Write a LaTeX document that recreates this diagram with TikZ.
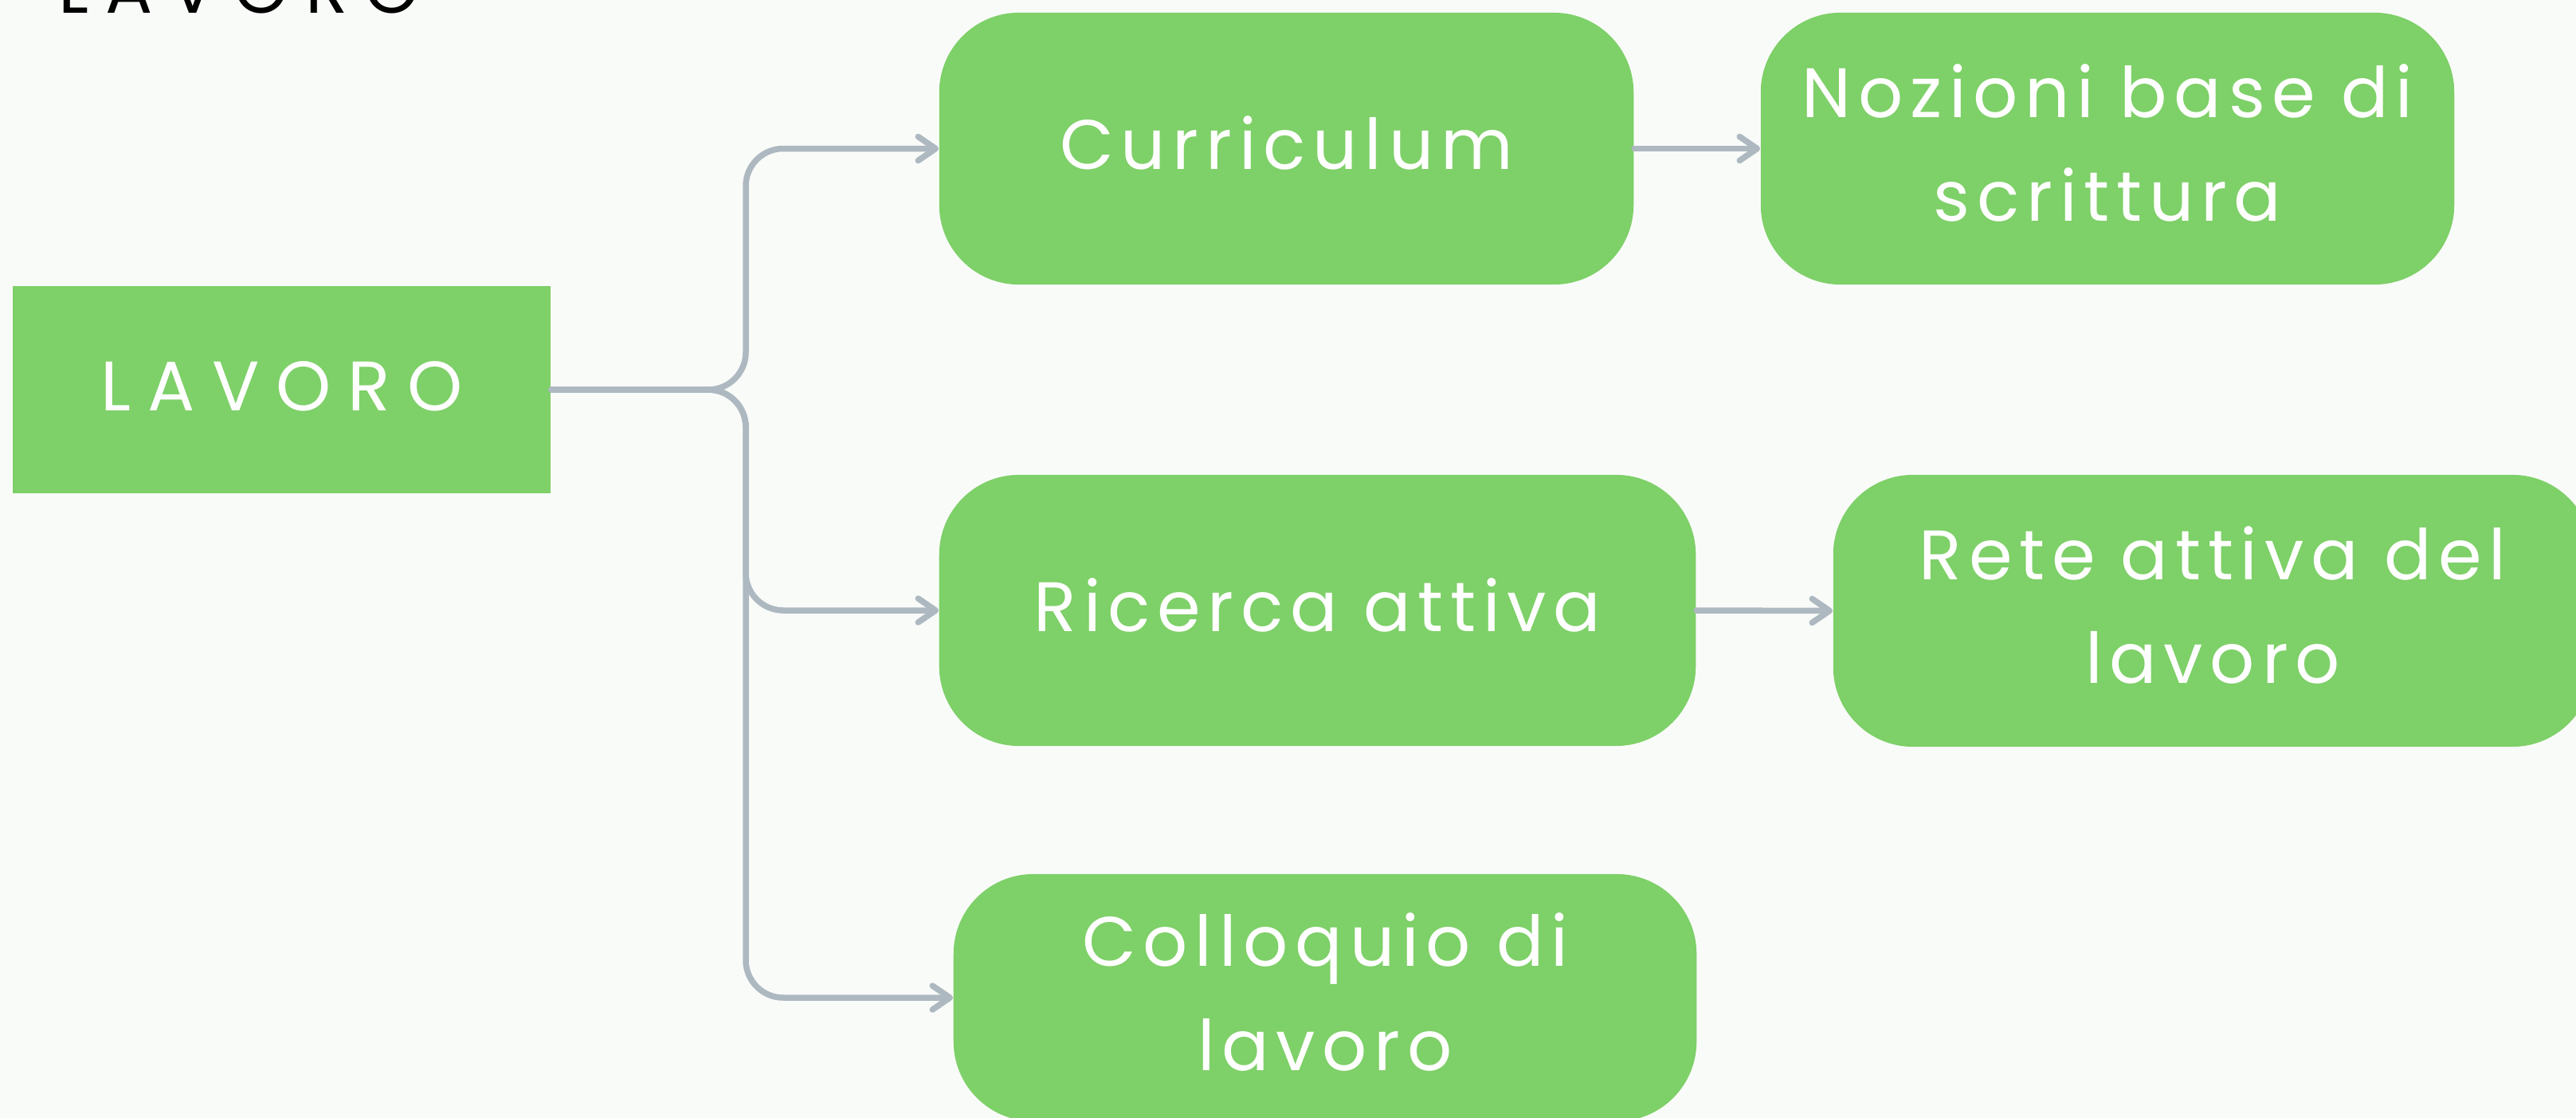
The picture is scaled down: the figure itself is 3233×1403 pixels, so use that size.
\documentclass[tikz,border=0pt]{standalone}
\usepackage{fontspec}
\setmainfont{Poppins}
\newfontfamily\labfont[LetterSpace=10]{Poppins}
\newfontfamily\capfont[LetterSpace=24]{Poppins}
\usetikzlibrary{arrows.meta}
\definecolor{bgcol}{RGB}{249,251,249}
\definecolor{boxgreen}{RGB}{126,208,104}
\definecolor{conncol}{RGB}{173,184,192}
\newcommand\lbl[1]{\raisebox{0.09cm}{\begin{tabular}{@{}c@{}}#1\end{tabular}}}
\begin{document}
\begin{tikzpicture}[x=0.01cm,y=-0.01cm,
  lab/.style={font={\labfont\fontsize{25}{37}\selectfont}},
  caplab/.style={font={\capfont\fontsize{25}{37}\selectfont}},
  gbox/.style={lab, fill=boxgreen, draw=none, text=white, inner sep=0pt, rounded corners=1cm},
  rootbox/.style={caplab, fill=boxgreen, draw=none, text=white, inner sep=0pt},
  conn/.style={draw=conncol, line width=0.075cm, line cap=round, line join=round, rounded corners=0.47cm,
    -{Straight Barb[length=0.22cm,width=0.3cm,round]}}]
\fill[bgcol] (0,0) rectangle (3233,1403);
\useasboundingbox (0,0) rectangle (3233,1403);

\node[caplab, text=black, anchor=base, inner sep=0pt] (title) at (300,17) {LAVORO};

\node[rootbox, minimum width=6.75cm, minimum height=2.6cm] (lav) at (353.5,489) {\lbl{LAVORO}};
\node[gbox, minimum width=8.71cm, minimum height=3.41cm] (cur) at (1614.5,186.5) {\lbl{Curriculum}};
\node[gbox, minimum width=8.70cm, minimum height=3.41cm] (noz) at (2645,186.5) {\lbl{Nozioni base di\\scrittura}};
\node[gbox, minimum width=9.49cm, minimum height=3.40cm] (ric) at (1653.5,766) {\lbl{Ricerca attiva}};
\node[gbox, minimum width=9.52cm, minimum height=3.41cm] (ret) at (2777,766.5) {\lbl{Rete attiva del\\lavoro}};
\node[gbox, minimum width=9.32cm, minimum height=3.10cm] (col) at (1663,1252) {\lbl{Colloquio di\\lavoro}};

\coordinate (trunk) at (936,489);
\draw[conn] (lav.east) -- (trunk) |- (cur.west);
\draw[conn] (lav.east) -- (trunk) |- (ric.west);
\draw[conn] (lav.east) -- (trunk) |- (col.west);
\draw[conn] (cur.east) -- (noz.west);
\draw[conn] (ric.east) -- (ret.west);
\end{tikzpicture}
\end{document}
